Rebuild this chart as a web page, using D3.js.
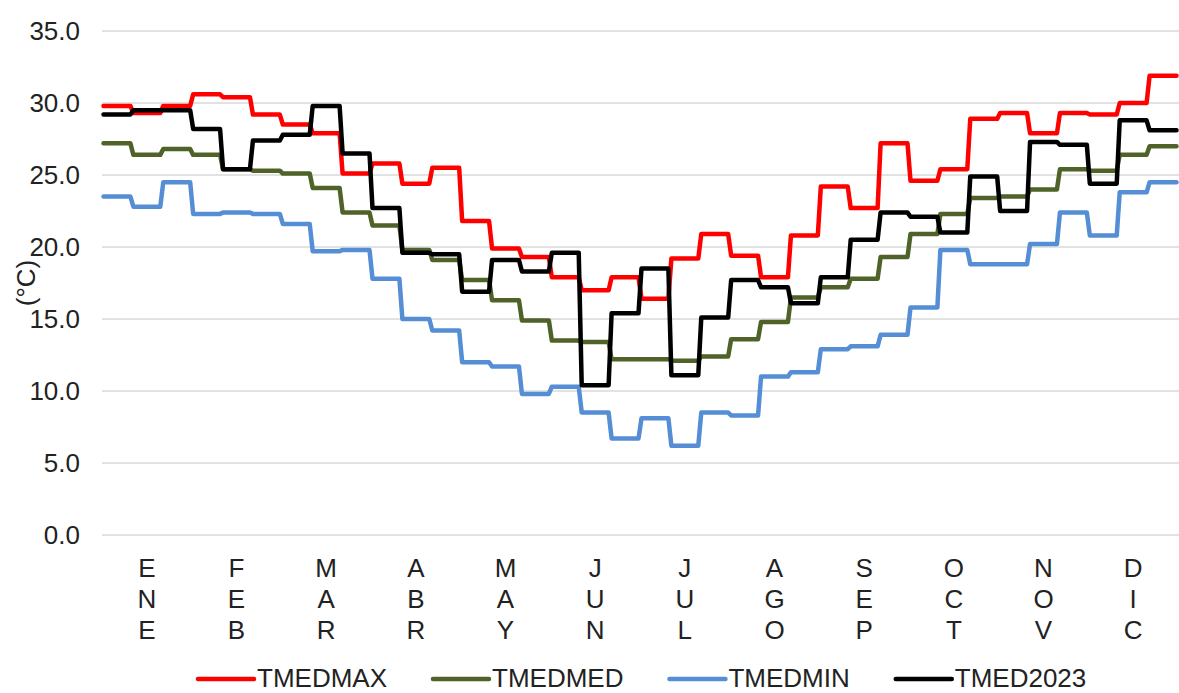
<!DOCTYPE html>
<html>
<head>
<meta charset="utf-8">
<script src="https://cdn.jsdelivr.net/npm/d3@7"></script>
<style>
body { margin: 0; background: #fff; }
svg { display: block; font-family: "Liberation Sans", Arial, sans-serif; }
</style>
</head>
<body>
<svg width="1179" height="693"></svg>
<script>
// dekadal means (3 per month)
var months = ["ENE","FEB","MAR","ABR","MAY","JUN","JUL","AGO","SEP","OCT","NOV","DIC"];
var yTicks = [0, 5, 10, 15, 20, 25, 30, 35];

var tmedmax = [29.8,29.3,29.8, 30.6,30.4,29.2, 28.5,27.9,25.1, 25.8,24.4,25.5,
               21.8,19.9,19.3, 17.9,17.0,17.9, 16.4,19.2,20.9, 19.4,17.9,20.8,
               24.2,22.7,27.2, 24.6,25.4,28.9, 29.3,27.9,29.3, 29.2,30.0,31.9];
var tmedmed = [27.2,26.4,26.8, 26.4,25.4,25.3, 25.1,24.1,22.4, 21.5,19.8,19.1,
               17.7,16.3,14.9, 13.5,13.4,12.2, 12.2,12.1,12.4, 13.6,14.8,16.5,
               17.2,17.8,19.3, 20.9,22.3,23.4, 23.5,24.0,25.4, 25.3,26.4,27.0];
var tmedmin = [23.5,22.8,24.5, 22.3,22.4,22.3, 21.6,19.7,19.8, 17.8,15.0,14.2,
               12.0,11.7,9.8, 10.3,8.5,6.7, 8.1,6.2,8.5, 8.3,11.0,11.3,
               12.9,13.1,13.9, 15.8,19.8,18.8, 18.8,20.2,22.4, 20.8,23.8,24.5];
var tmed2023 = [29.2,29.5,29.5, 28.2,25.4,27.4, 27.8,29.8,26.5, 22.7,19.6,19.5,
                16.9,19.1,18.3, 19.6,10.4,15.4, 18.5,11.1,15.1, 17.7,17.2,16.1,
                17.9,20.5,22.4, 22.1,21.0,24.9, 22.5,27.3,27.1, 24.4,28.8,28.1];

var series = [
  {name: "TMEDMAX", values: tmedmax, color: "#ff0000"},
  {name: "TMEDMED", values: tmedmed, color: "#4f6228"},
  {name: "TMEDMIN", values: tmedmin, color: "#558ed5"},
  {name: "TMED2023", values: tmed2023, color: "#000000"}
];

var svg = d3.select("svg"),
    margin = {top: 31, right: 1, bottom: 158, left: 102},
    width = +svg.attr("width") - margin.left - margin.right,
    height = +svg.attr("height") - margin.top - margin.bottom;

var x = d3.scaleLinear().domain([0, 36]).range([0, width]),
    xm = d3.scaleBand().domain(months).range([0, width]),
    y = d3.scaleLinear().domain([0, 35]).range([height, 0]);

var g = svg.append("g")
    .attr("transform", "translate(" + margin.left + "," + margin.top + ")");

// gridlines
g.selectAll(".grid")
  .data(yTicks)
  .enter().append("line")
    .attr("class", "grid")
    .attr("x1", 0)
    .attr("x2", width + 1)
    .attr("y1", function(d) { return y(d); })
    .attr("y2", function(d) { return y(d); })
    .style("stroke", "#d9d9d9")
    .style("stroke-width", "1.5px");

// y labels
g.selectAll(".ylab")
  .data(yTicks)
  .enter().append("text")
    .attr("class", "ylab")
    .attr("x", -22)
    .attr("y", function(d) { return y(d); })
    .attr("dy", "0.35em")
    .style("text-anchor", "end")
    .style("font-size", "26px")
    .style("fill", "#222")
    .text(function(d) { return d3.format(".1f")(d); });

svg.append("text")
    .attr("transform", "translate(26,283) rotate(-90)")
    .attr("dy", "0.35em")
    .style("text-anchor", "middle")
    .style("font-size", "26px")
    .style("fill", "#222")
    .text("(°C)");

// month labels, letters stacked
var mlab = g.selectAll(".mlab")
  .data(months)
  .enter().append("text")
    .attr("class", "mlab")
    .style("text-anchor", "middle")
    .style("font-size", "26px")
    .style("fill", "#222");

mlab.selectAll("tspan")
  .data(function(m) { return m.split("").map(function(c) { return {c: c, m: m}; }); })
  .enter().append("tspan")
    .attr("x", function(d) { return xm(d.m) + xm.bandwidth() / 2; })
    .attr("y", function(d, i) { return height + 42 + i * 31; })
    .text(function(d) { return d.c; });

// step lines
var line = d3.line()
    .x(function(d) { return x(d[0]); })
    .y(function(d) { return y(d[1]); });

g.selectAll(".serie")
  .data(series)
  .enter().append("path")
    .attr("class", "serie")
    .attr("d", function(s) {
      var pts = [];
      s.values.forEach(function(v, i) {
        pts.push([i + 0.05, v]);
        pts.push([i + 0.95, v]);
      });
      return line(pts);
    })
    .style("fill", "none")
    .style("stroke", function(s) { return s.color; })
    .style("stroke-width", "4.5px")
    .style("stroke-linejoin", "round")
    .style("stroke-linecap", "round");

// legend
var legend = svg.append("g").attr("transform", "translate(0,679)");
var items = legend.selectAll(".item")
  .data(series)
  .enter().append("g")
    .attr("class", "item");

items.append("line")
    .attr("x1", 0).attr("x2", 56)
    .style("stroke", function(s) { return s.color; })
    .style("stroke-width", "4.5px")
    .style("stroke-linecap", "round");

items.append("text")
    .attr("x", 59)
    .attr("y", 8)
    .style("font-size", "26px")
    .style("fill", "#222")
    .text(function(s) { return s.name; });

var lx = 198;
items.each(function() {
  var w = 59 + d3.select(this).select("text").node().getComputedTextLength();
  d3.select(this).attr("transform", "translate(" + lx + ",0)");
  lx += w + 46;
});
</script>
</body>
</html>
